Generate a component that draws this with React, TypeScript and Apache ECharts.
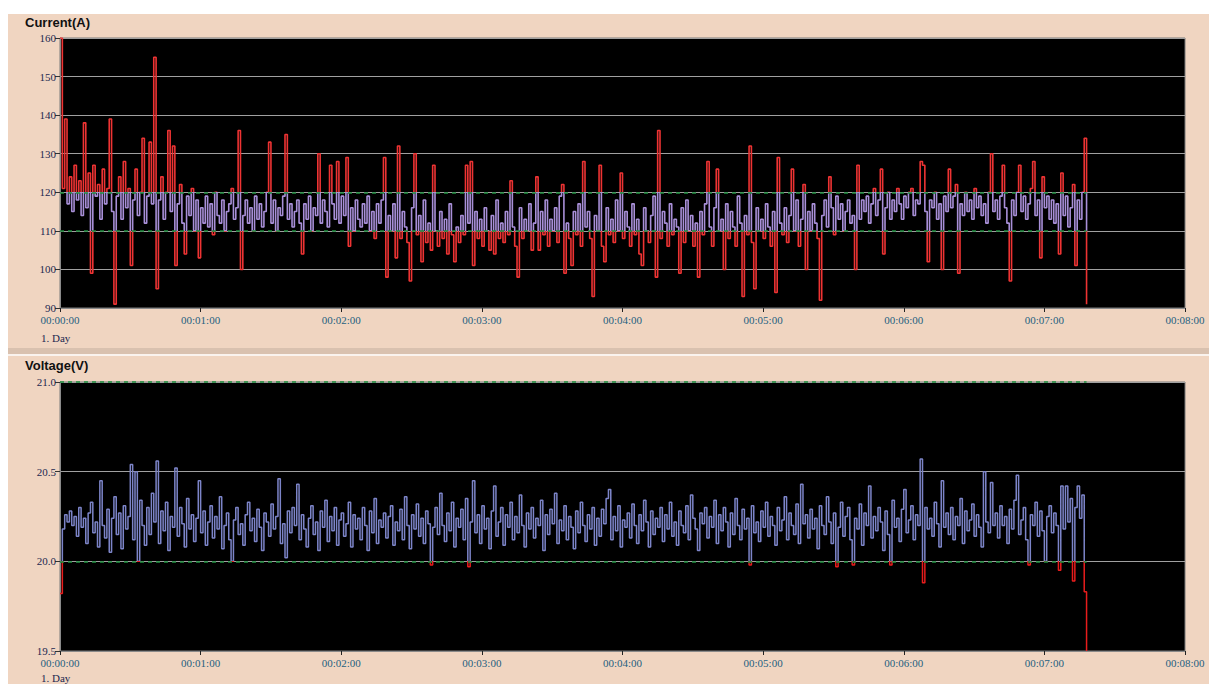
import React, { useEffect, useRef } from "react";
import * as echarts from "echarts";

// sample step in seconds
const STEP = 1;

const currentValues: number[] = [
  160, 121, 139, 117, 124, 115, 127, 118, 123, 114, 138, 116, 125, 99, 127, 119, 122, 113, 126, 117,
  121, 139, 115, 91, 119, 124, 113, 128, 116, 121, 101, 118, 126, 114, 120, 134, 112, 119, 133, 117,
  155, 95, 118, 124, 113, 120, 136, 115, 132, 101, 117, 122, 112, 104, 119, 114, 121, 110, 118, 103,
  116, 112, 119, 111, 117, 109, 120, 114, 112, 118, 110, 115, 117, 121, 113, 116, 136, 100, 114, 118,
  112, 116, 110, 119, 113, 117, 111, 115, 120, 133, 112, 118, 110, 116, 114, 119, 135, 113, 117, 111,
  115, 118, 112, 104, 117, 113, 119, 110, 116, 114, 130, 112, 118, 115, 111, 127, 117, 113, 128, 112,
  119, 114, 129, 106, 116, 110, 118, 113, 111, 117, 112, 119, 110, 115, 108, 117, 112, 118, 129, 98,
  114, 110, 117, 103, 132, 108, 115, 111, 107, 97, 116, 130, 109, 114, 102, 118, 107, 112, 105, 127,
  110, 106, 115, 108, 113, 104, 117, 109, 102, 111, 107, 114, 109, 127, 112, 128, 101, 115, 108, 113,
  106, 116, 110, 105, 114, 104, 118, 108, 112, 107, 115, 109, 123, 111, 106, 98, 116, 108, 113, 110,
  117, 105, 112, 124, 105, 115, 109, 118, 106, 113, 110, 116, 107, 119, 122, 99, 112, 108, 101, 115,
  109, 117, 106, 128, 111, 115, 108, 93, 114, 110, 127, 106, 102, 116, 109, 113, 107, 118, 110, 125,
  108, 115, 111, 106, 117, 109, 113, 104, 101, 116, 110, 107, 114, 119, 98, 136, 108, 115, 112, 106,
  117, 109, 113, 111, 99, 116, 107, 118, 110, 114, 106, 112, 98, 115, 109, 117, 128, 111, 106, 116,
  126, 110, 113, 100, 117, 108, 115, 111, 106, 119, 112, 93, 114, 109, 132, 107, 95, 116, 110, 113,
  108, 117, 111, 106, 115, 94, 129, 112, 109, 116, 107, 114, 126, 110, 118, 106, 113, 122, 100, 115,
  110, 117, 112, 108, 92, 114, 118, 111, 124, 116, 109, 119, 113, 117, 110, 115, 118, 112, 114, 100,
  127, 113, 118, 115, 119, 112, 117, 121, 114, 118, 126, 104, 116, 120, 113, 118, 115, 121, 117, 113,
  119, 116, 120, 121, 114, 118, 117, 128, 127, 115, 102, 118, 116, 120, 113, 117, 100, 119, 115, 126,
  116, 119, 122, 99, 117, 114, 120, 115, 118, 113, 121, 116, 119, 114, 117, 112, 120, 130, 115, 118,
  113, 119, 127, 116, 112, 97, 118, 114, 120, 127, 115, 119, 113, 117, 121, 128, 114, 118, 103, 124,
  116, 119, 113, 118, 112, 117, 104, 125, 114, 119, 111, 116, 122, 101, 118, 113, 120, 134, 91,
];

const voltageValues: number[] = [
  19.82, 20.18, 20.26, 20.22, 20.28, 20.2, 20.25, 20.14, 20.3, 20.19, 20.24, 20.1, 20.27, 20.33, 20.16, 20.22, 20.08, 20.45, 20.2, 20.13,
  20.29, 20.05, 20.24, 20.36, 20.15, 20.27, 20.07, 20.31, 20.18, 20.25, 20.54, 20.12, 20.5, 20.0, 20.34, 20.2, 20.09, 20.3, 20.15, 20.38,
  20.22, 20.56, 20.1, 20.28, 20.17, 20.33, 20.06, 20.25, 20.19, 20.52, 20.14, 20.3, 20.21, 20.08, 20.35, 20.18, 20.26, 20.11, 20.24, 20.45,
  20.16, 20.28, 20.09, 20.22, 20.31, 20.13, 20.25, 20.18, 20.36, 20.07, 20.2, 20.27, 20.12, 20.0, 20.23, 20.3, 20.15, 20.21, 20.09, 20.26,
  20.33, 20.17, 20.24, 20.11, 20.29, 20.19, 20.06, 20.27, 20.22, 20.14, 20.32, 20.18, 20.25, 20.46, 20.1, 20.21, 20.02, 20.28, 20.16, 20.3,
  20.2, 20.43, 20.12, 20.26, 20.18, 20.08, 20.24, 20.31, 20.15, 20.22, 20.06, 20.28, 20.19, 20.34, 20.11, 20.25, 20.17, 20.3, 20.09, 20.23,
  20.27, 20.14, 20.21, 20.33, 20.08, 20.26, 20.18, 20.24, 20.12, 20.3, 20.2, 20.06, 20.28, 20.16, 20.35, 20.1, 20.23, 20.19, 20.27, 20.13,
  20.25, 20.31, 20.09, 20.22, 20.17, 20.29, 20.12, 20.36, 20.2, 20.07, 20.26, 20.18, 20.32, 20.14, 20.24, 20.1, 20.28, 20.21, 19.98, 20.19,
  20.3, 20.15, 20.38, 20.2, 20.11, 20.27, 20.17, 20.33, 20.08, 20.24, 20.19, 20.29, 20.12, 20.35, 19.97, 20.22, 20.45, 20.16, 20.26, 20.1,
  20.31, 20.18, 20.24, 20.07, 20.28, 20.42, 20.14, 20.22, 20.3, 20.09, 20.26, 20.19, 20.33, 20.12, 20.25, 20.16, 20.37, 20.2, 20.08, 20.27,
  20.18, 20.3, 20.13, 20.24, 20.2, 20.34, 20.06, 20.26, 20.15, 20.29, 20.21, 20.38, 20.1, 20.23, 20.17, 20.31, 20.12, 20.25, 20.19, 20.07,
  20.28, 20.16, 20.33, 20.2, 20.11, 20.26, 20.18, 20.3, 20.09, 20.24, 20.14, 20.29, 20.21, 20.35, 20.4, 20.12, 20.25, 20.17, 20.31, 20.08,
  20.23, 20.19, 20.27, 20.13, 20.32, 20.2, 20.1, 20.26, 20.17, 20.34, 20.22, 20.08, 20.28, 20.15, 20.24, 20.19, 20.3, 20.11, 20.26, 20.18,
  20.33, 20.14, 20.22, 20.09, 20.28, 20.2, 20.16, 20.31, 20.12, 20.37, 20.24, 20.18, 20.06, 20.27, 20.21, 20.3, 20.13, 20.25, 20.19, 20.34,
  20.1, 20.26, 20.17, 20.3, 20.22, 20.08, 20.27, 20.15, 20.35, 20.2, 20.12, 20.29, 20.18, 20.24, 19.98, 20.31, 20.16, 20.22, 20.11, 20.28,
  20.19, 20.33, 20.14, 20.25, 20.2, 20.09, 20.3, 20.17, 20.23, 20.36, 20.12, 20.27, 20.2, 20.15, 20.32, 20.1, 20.43, 20.21, 20.26, 20.13,
  20.29, 20.18, 20.24, 20.07, 20.31, 20.2, 20.15, 20.36, 20.22, 20.1, 20.27, 19.97, 20.19, 20.33, 20.14, 20.25, 20.3, 20.12, 19.98, 20.24,
  20.18, 20.32, 20.09, 20.27, 20.2, 20.42, 20.13, 20.25, 20.17, 20.3, 20.22, 20.06, 20.28, 20.15, 19.98, 20.34, 20.19, 20.24, 20.11, 20.29,
  20.4, 20.16, 20.23, 20.31, 20.12, 20.26, 20.2, 20.57, 19.88, 20.3, 20.18, 20.24, 20.14, 20.33, 20.21, 20.08, 20.45, 20.19, 20.27, 20.15,
  20.3, 20.12, 20.25, 20.2, 20.35, 20.1, 20.28, 20.17, 20.23, 20.32, 20.14, 20.26, 20.19, 20.08, 20.5, 20.22, 20.16, 20.44, 20.2, 20.27,
  20.13, 20.31, 20.2, 20.25, 20.1, 20.29, 20.18, 20.34, 20.48, 20.15, 20.23, 20.3, 20.12, 19.98, 20.26, 20.2, 20.33, 20.14, 20.28, 20.17,
  20.0, 20.25, 20.31, 20.16, 20.27, 20.2, 19.95, 20.42, 20.18, 20.42, 20.22, 20.35, 19.89, 20.3, 20.42, 20.24, 20.37, 19.83, 19.5,
];

const currentLimits = [110, 120];
const voltageLimits = [20.0, 21.0];
const xMax = 480;
const xTickInterval = 60;

const BEIGE = "#f0d5c1";
const SERIF = "'Liberation Serif', 'DejaVu Serif', serif";
const SANS = "'Liberation Sans', Arial, sans-serif";

function fmtTime(v: number) {
  const s = Math.round(v);
  const h = Math.floor(s / 3600);
  const m = Math.floor((s % 3600) / 60);
  const sec = s % 60;
  const p = (n: number) => String(n).padStart(2, "0");
  return `${p(h)}:${p(m)}:${p(sec)}`;
}

export default function App() {
  const ref = useRef<HTMLDivElement>(null);

  useEffect(() => {
    if (!ref.current) return;
    const chart = echarts.init(ref.current, undefined, { renderer: "svg" });

    const curData = currentValues.map((v, i) => [i * STEP, v]);
    const volData = voltageValues.map((v, i) => [i * STEP, v]);
    const lastT = (currentValues.length - 1) * STEP;

    const xAxisBase = (gridIndex: number) => ({
      type: "value" as const,
      gridIndex,
      min: 0,
      max: xMax,
      interval: xTickInterval,
      axisLine: { show: true, lineStyle: { color: "#8a8a8a", width: 1 } },
      axisTick: { show: true, length: 4, lineStyle: { color: "#222" } },
      splitLine: { show: false },
      axisLabel: {
        formatter: (v: number) => fmtTime(v),
        color: "#1f5f80",
        fontFamily: SERIF,
        fontSize: 11,
        margin: 6,
      },
    });

    const yAxisBase = (gridIndex: number, min: number, max: number, interval: number, digits: number) => ({
      type: "value" as const,
      gridIndex,
      min,
      max,
      interval,
      axisLine: { show: true, lineStyle: { color: "#8a8a8a", width: 1 } },
      axisTick: { show: true, length: 5, lineStyle: { color: "#333" } },
      splitLine: { show: true, lineStyle: { color: "#a0a0a0", width: 1 } },
      axisLabel: {
        formatter: (v: number) => v.toFixed(digits),
        color: "#1c2850",
        fontFamily: SERIF,
        fontSize: 11,
        margin: 4,
      },
    });

    const limitLines = (limits: number[]) => ({
      silent: true,
      symbol: ["none", "none"],
      label: { show: false },
      lineStyle: { color: "#1f8f3f", type: [4, 4] as any, width: 1.5 },
      data: limits.map((y) => [{ coord: [0, y] }, { coord: [lastT, y] }]),
    });

    chart.setOption({
      animation: false,
      backgroundColor: "#ffffff",
      graphic: [
        { type: "rect", shape: { x: 8, y: 14, width: 1201, height: 334 }, style: { fill: BEIGE }, z: -10 },
        { type: "rect", shape: { x: 8, y: 348, width: 1201, height: 6 }, style: { fill: "#d9c1af" }, z: -10 },
        { type: "rect", shape: { x: 8, y: 354, width: 1201, height: 2 }, style: { fill: "#faf3ee" }, z: -10 },
        { type: "rect", shape: { x: 8, y: 356, width: 1201, height: 328 }, style: { fill: BEIGE }, z: -10 },
        {
          type: "text", left: 25, top: 16,
          style: { text: "Current(A)", font: `bold 13px ${SANS}`, fill: "#111" },
        },
        {
          type: "text", left: 25, top: 359,
          style: { text: "Voltage(V)", font: `bold 13px ${SANS}`, fill: "#111" },
        },
        {
          type: "text", left: 41, top: 332,
          style: { text: "1. Day", font: `11px ${SERIF}`, fill: "#1c2850" },
        },
        {
          type: "text", left: 41, top: 672,
          style: { text: "1. Day", font: `11px ${SERIF}`, fill: "#1c2850" },
        },
      ],
      grid: [
        { left: 60, top: 38, width: 1125, height: 270, show: true, backgroundColor: "#000", borderColor: "#7a7a7a", borderWidth: 1 },
        { left: 60, top: 382, width: 1125, height: 269, show: true, backgroundColor: "#000", borderColor: "#7a7a7a", borderWidth: 1 },
      ],
      xAxis: [xAxisBase(0), xAxisBase(1)],
      yAxis: [yAxisBase(0, 90, 160, 10, 0), yAxisBase(1, 19.5, 21, 0.5, 1)],
      visualMap: [
        {
          type: "piecewise", show: false, seriesIndex: 0, dimension: 1,
          pieces: [
            { lt: currentLimits[0], color: "#ee3333" },
            { gte: currentLimits[0], lte: currentLimits[1], color: "#a88fd8" },
            { gt: currentLimits[1], color: "#ee3333" },
          ],
        },
        {
          type: "piecewise", show: false, seriesIndex: 1, dimension: 1,
          pieces: [
            { lt: voltageLimits[0], color: "#e81c1c" },
            { gte: voltageLimits[0], lte: voltageLimits[1], color: "#7c84c8" },
            { gt: voltageLimits[1], color: "#e81c1c" },
          ],
        },
      ],
      series: [
        {
          type: "line", name: "Current", xAxisIndex: 0, yAxisIndex: 0,
          data: curData, showSymbol: false, step: "end", lineStyle: { width: 1.6 },
          markLine: limitLines(currentLimits),
        },
        {
          type: "line", name: "Voltage", xAxisIndex: 1, yAxisIndex: 1,
          data: volData, showSymbol: false, step: "end", lineStyle: { width: 1.5 },
          markLine: limitLines(voltageLimits),
        },
      ],
    });

    return () => chart.dispose();
  }, []);

  return (
    <div
      ref={ref}
      style={{ position: "absolute", left: 0, top: 0, width: 1209, height: 684 }}
    />
  );
}
